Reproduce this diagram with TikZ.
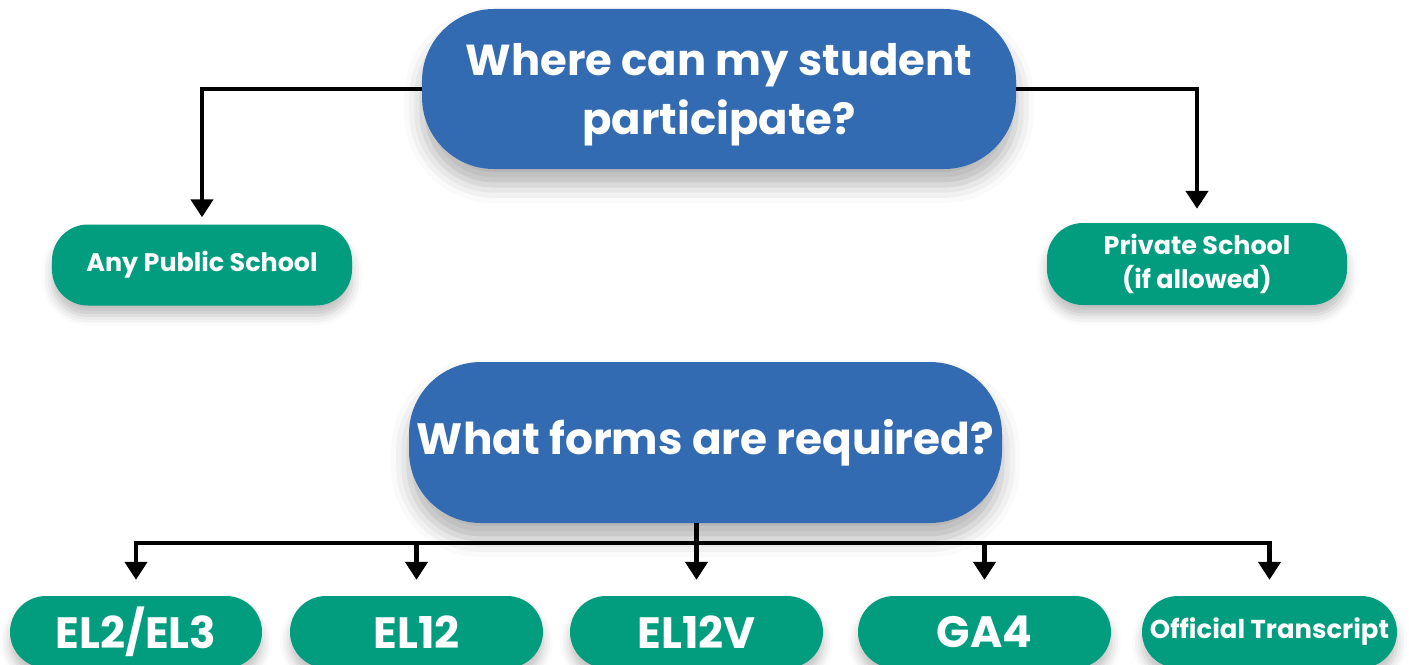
\documentclass[tikz,border=0pt]{standalone}
\usepackage{fontspec}
\setmainfont{Poppins}
\usetikzlibrary{arrows.meta,shadows.blur,calc}
\definecolor{qblue}{HTML}{336BB2}
\definecolor{agreen}{HTML}{029D7E}
\tikzset{
  question/.style={fill=qblue, text=white, font=\bfseries\fontsize{43.5}{60}\selectfont,
    align=center, rounded corners=72bp, inner sep=0pt,
    blur shadow={shadow xshift=0bp, shadow yshift=-16bp, shadow blur radius=18bp, shadow opacity=30}},
  answer/.style={fill=agreen, text=white, align=center, rounded corners=36bp, inner sep=0pt,
    blur shadow={shadow xshift=0bp, shadow yshift=-10bp, shadow blur radius=10bp, shadow opacity=25}},
  small/.style={answer, font=\bfseries\fontsize{25.5}{34}\selectfont},
  big/.style={answer, font=\bfseries\fontsize{44}{50}\selectfont},
  conn/.style={line width=4.5bp, -{Triangle[width=22bp,length=18bp]}},
  bar/.style={line width=4.5bp},
}
\begin{document}
\begin{tikzpicture}[x=1bp,y=-1bp]
\useasboundingbox (0,0) rectangle (1409,665);
\node[question, text depth=0pt, minimum width=594bp, minimum height=160bp] (q1) at (719,89) {Where can my student\\participate?};
\node[small, minimum width=300bp, minimum height=81bp] (pub) at (202,265) {Any Public School};
\node[small, minimum width=300bp, minimum height=82bp] (priv) at (1197,264) {Private School\\(if allowed)};
\node[question, font=\bfseries\fontsize{44}{50}\selectfont, minimum width=593bp, minimum height=161bp] (q2) at (705.5,442.5) {What forms are required?};
\node[big, minimum width=252bp, minimum height=72bp] (e1) at (136,632) {EL2/EL3};
\node[big, minimum width=253bp, minimum height=72bp] (e2) at (416.5,632) {EL12};
\node[big, minimum width=253bp, minimum height=72bp] (e3) at (696.5,632) {EL12V};
\node[big, minimum width=253bp, minimum height=72bp] (e4) at (984.5,632) {GA4};
\node[small, font=\bfseries\fontsize{26}{30}\selectfont, minimum width=255bp, minimum height=72bp] (e5) at (1269.5,632) {Official Transcript};
\coordinate (bus) at (0,543);
\draw[conn, shorten >=7bp] (q1.west) -| (pub.north);
\draw[conn, shorten >=14bp] (q1.east) -| (priv.north);
\draw[bar] (e3 |- q2.south) -- (e3 |- bus);
\draw[bar, line cap=rect] (e1 |- bus) -- (e5 |- bus);
\foreach \n in {e1,e2,e3,e4,e5}
  \draw[conn, shorten >=16bp] (\n |- bus) -- (\n.north);
\end{tikzpicture}
\end{document}
